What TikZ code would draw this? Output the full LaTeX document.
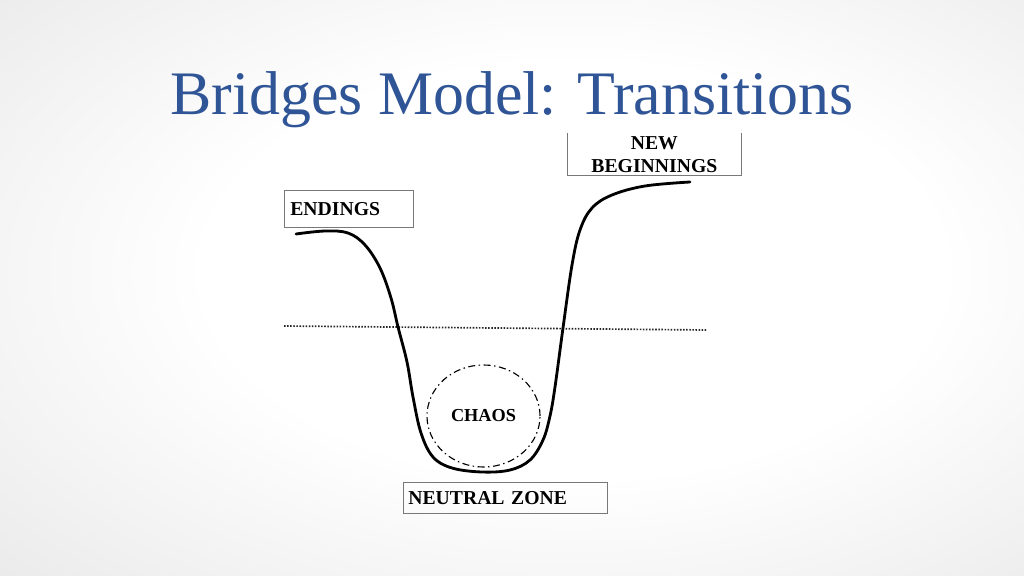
\documentclass[tikz,border=0pt]{standalone}
\usepackage{fontspec}
\setmainfont{Liberation Serif}
\usetikzlibrary{shapes.geometric}
\definecolor{titleblue}{RGB}{47,85,151}
\definecolor{boxgray}{RGB}{120,120,120}
\pgfdeclareradialshading{slidebg}{\pgfpoint{4bp}{2bp}}{color(0bp)=(white); color(18bp)=(white); color(50bp)=(black!13); color(75bp)=(black!17)}
\tikzstyle{tag} = [rectangle, draw=boxgray, line width=0.5pt, inner xsep=0.15cm,
    font=\fontsize{14}{16.5}\selectfont\bfseries]
\tikzstyle{curve} = [draw, line width=2pt, line cap=round, line join=round]

\begin{document}
\begin{tikzpicture}[x=0.025cm, y=-0.025cm]
		\shade [shading=slidebg] (0,0) rectangle (1024,576);
		\useasboundingbox (0,0) rectangle (1024,576);
		\node [anchor=base, text=titleblue, font=\fontsize{44}{48}\selectfont] (title) at (512,115) {Bridges Model: Transitions};
		
		\node [tag, anchor=north west, text width=2.925cm, minimum height=0.925cm, align=left] (endings) at (284,190) {ENDINGS};
		\node [tag, draw=none, anchor=north west, text width=4.05cm, minimum height=1.05cm, align=center, inner ysep=0pt] (newbeg) at (567,133) {NEW\\BEGINNINGS};
		\node [tag, anchor=north west, text width=4.85cm, minimum height=0.775cm, inner xsep=0.125cm, align=left] (neutral) at (403,482) {NEUTRAL ZONE};
		\node [ellipse, draw, line width=0.8pt, dash pattern=on 5pt off 2.5pt on 1pt off 2.5pt,
			minimum width=2.825cm, minimum height=2.55cm, inner sep=0pt,
			font=\fontsize{13}{15}\selectfont\bfseries] (chaos) at (483.5,416) {CHAOS};
		\path [draw=boxgray, line width=0.5pt] (newbeg.north west) -- (newbeg.south west) -- (newbeg.south east) -- (newbeg.north east);
		
		\coordinate (lineleft) at (284,326);
		\coordinate (lineright) at (706,330);
		\draw [line width=1.2pt, dash pattern=on 1.1pt off 1.1pt, black!85] (lineleft) -- (lineright);
		
		\path [curve] plot [smooth, tension=0.6] coordinates {(296,234) (325,231) (348,233) (365,245) (380,268) (391,298) (398,327) (407,362) (413,397) (421,433) (433,457) (452,468) (482,472) (510,470) (530,460) (543,440) (550,416) (555,387) (563,328) (572,265) (580,230) (592,208) (612,195) (645,186) (690,182)};
	\end{tikzpicture}
\end{document}
